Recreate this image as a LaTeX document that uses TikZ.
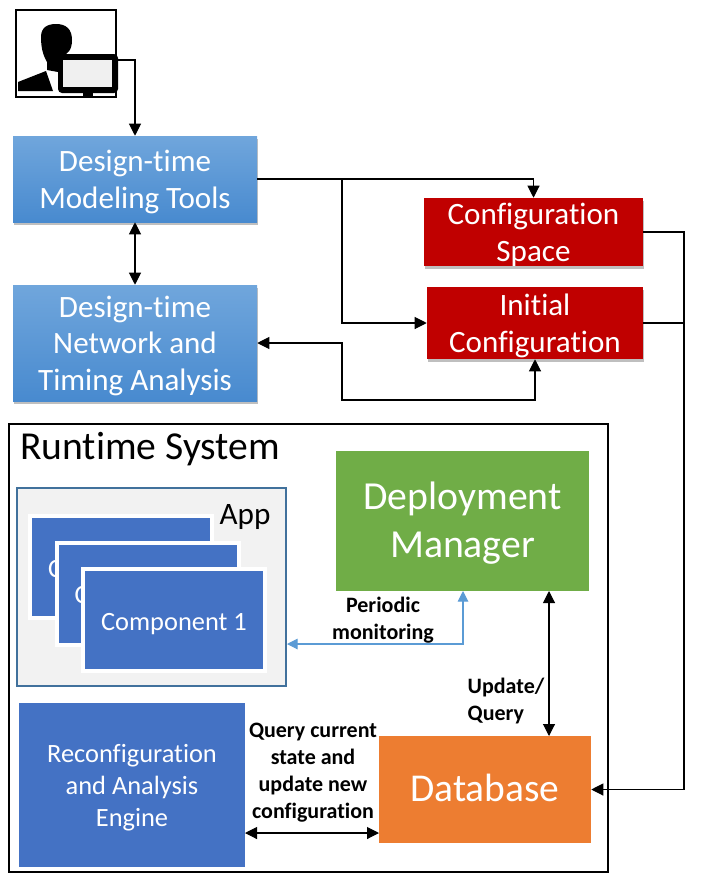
\documentclass[tikz,border=0pt]{standalone}
\usepackage{fontspec}
\setmainfont[Ligatures=NoCommon]{Carlito}
\usetikzlibrary{arrows.meta,shadows}
\definecolor{boxblue}{HTML}{4472C4}
\definecolor{darkred}{HTML}{C00000}
\definecolor{mgrgreen}{HTML}{70AD47}
\definecolor{dborange}{HTML}{ED7D31}
\definecolor{linkblue}{HTML}{5B9BD5}
\definecolor{appedge}{HTML}{41719C}
\definecolor{tooltop}{HTML}{70A6DC}
\definecolor{toolbottom}{HTML}{488ACF}
\tikzset{
  box/.style={inner sep=0pt},
  boxtext/.style={inner sep=0pt, align=center, text=white, yshift=#1},
  sizetext/.style={boxtext=-2pt, font=\fontsize{23.3}{27.5}\selectfont},
  comptext/.style={boxtext=-3pt, font=\fontsize{19.8}{24}\selectfont},
  toolbox/.style={box, top color=tooltop, bottom color=toolbottom, drop shadow={shadow xshift=1pt, shadow yshift=-2.5pt, opacity=.5}},
  redbox/.style={box, fill=darkred, drop shadow={shadow xshift=1pt, shadow yshift=-2.5pt, opacity=.5}},
  compbox/.style={box, fill=boxblue, draw=white, line width=3pt, minimum width=136.5pt, minimum height=76.5pt},
  note/.style={inner sep=0pt, align=center, font=\fontsize{16.5}{20.25}\selectfont\bfseries},
  link/.style={draw=black, line width=.8pt, >={Triangle[length=9pt,width=9pt]}},
  bluelink/.style={draw=linkblue, line width=.8pt, >={Triangle[length=8pt,width=8pt]}},
}
\begin{document}
\begin{tikzpicture}[x=0.75pt, y=-0.75pt]
  \useasboundingbox (0, 0) rectangle (700, 885);
  % user icon
  \node (user) at (66, 53.5) [draw=black, line width=1.5pt, minimum width=75pt, minimum height=65pt, inner sep=0pt] {};
  \fill (41, 37) .. controls (41, 27) and (48, 24) .. (56, 24) .. controls (66, 24) and (72, 29) .. (72, 40) .. controls (72, 50) and (68, 54) .. (60, 58) -- (58, 72) -- (47, 70) -- (47, 62) .. controls (43, 55) and (41, 48) .. (41, 37) -- cycle;
  \fill (18, 91) -- (18, 82) -- (46, 71) -- (53, 91) -- cycle;
  \fill[white] (18, 92.5) rectangle (83, 96);
  \fill[white] (93, 92.5) rectangle (115, 96);
  \fill[black, rounded corners=3pt] (58, 54) rectangle (118, 93);
  \fill[black!6] (63, 60) rectangle (112, 87);
  \fill (83, 93) rectangle (93, 98);
  \coordinate (userout) at (118, 60);
  % design-time
  \node (modeling) at (135, 179) [toolbox, minimum width=183pt, minimum height=64.5pt, label={[sizetext]center:Design-time\\Modeling Tools}] {};
  \node (analysis) at (135, 343) [toolbox, minimum width=183pt, minimum height=87pt, label={[sizetext]center:Design-time\\Network and\\Timing Analysis}] {};
  \node (space) at (533.5, 232) [redbox, minimum width=164.25pt, minimum height=51pt, label={[sizetext]center:Configuration\\Space}] {};
  \node (init) at (535, 323) [redbox, minimum width=162pt, minimum height=54pt, label={[sizetext]center:Initial\\Configuration}] {};
  \coordinate (split) at (342, 179);
  \coordinate (back) at (342, 400);
  \coordinate (merge) at (684, 323);
  % runtime system
  \node (runtime) at (308.5, 648) [draw=black, line width=1.5pt, minimum width=449pt, minimum height=336pt] {};
  \node (title) at (150, 449.5) [inner sep=0pt, font=\fontsize{29.7}{34}\selectfont] {Runtime System};
  \node (app) at (151, 586.5) [draw=appedge, fill=black!5, line width=1.5pt, minimum width=201.75pt, minimum height=148.5pt] {};
  \node (applabel) at (245, 517) [inner sep=0pt, font=\fontsize{23.4}{28}\selectfont] {App};
  \node (comp3) at (121, 567) [compbox, label={[comptext]center:C\phantom{omponent 3}}] {};
  \node (comp2) at (147.5, 593.5) [compbox, label={[comptext]center:C\phantom{omponent 2}}] {};
  \node (comp1) at (174, 620) [compbox, label={[comptext]center:Component 1}] {};
  \node (manager) at (462.5, 521) [box, fill=mgrgreen, minimum width=190pt, minimum height=105pt, label={[boxtext=-1.5pt, font=\fontsize{29.8}{35.5}\selectfont]center:Deployment\\Manager}] {};
  \node (database) at (485, 789.5) [box, fill=dborange, minimum width=159pt, minimum height=80pt, label={[boxtext=1.5pt, font=\fontsize{29.6}{34}\selectfont]center:Database}] {};
  \node (engine) at (132, 785) [box, fill=boxblue, minimum width=169.5pt, minimum height=123pt, label={[boxtext=-2.25pt, font=\fontsize{19.8}{24}\selectfont]center:Reconfiguration\\and Analysis\\Engine}] {};
  \node (periodic) at (383, 620) [note] {Periodic\\monitoring};
  \node (update) at (506, 701) [note, align=left] {Update/\\Query};
  \node (query) at (313, 773) [note] {Query current\\state and\\update new\\configuration};
  \coordinate (appin) at (287, 644);
  \coordinate (managerin) at (463, 591);
  \coordinate (managerdb) at (549, 591);
  \coordinate (dbmanager) at (549, 736);
  \coordinate (enginedb) at (245, 833);
  \coordinate (dbengine) at (379, 833);
  % connectors
  \draw[link, ->] (userout) -| (modeling.north);
  \draw[link, ->] (modeling.east) -| (space.north);
  \draw[link, ->] (split) |- (init.west);
  \draw[link, <->] (modeling.south) to (analysis.north);
  \draw[link, <->] (analysis.east) -| (back) -| (init.south);
  \draw[link, ->] (space.east) -| (merge) |- (database.east);
  \draw[link] (init.east) to (merge);
  \draw[link, <->] (managerdb) to (dbmanager);
  \draw[bluelink, <->] (appin) -| (managerin);
  \draw[link, <->] (enginedb) to (dbengine);
\end{tikzpicture}
\end{document}
